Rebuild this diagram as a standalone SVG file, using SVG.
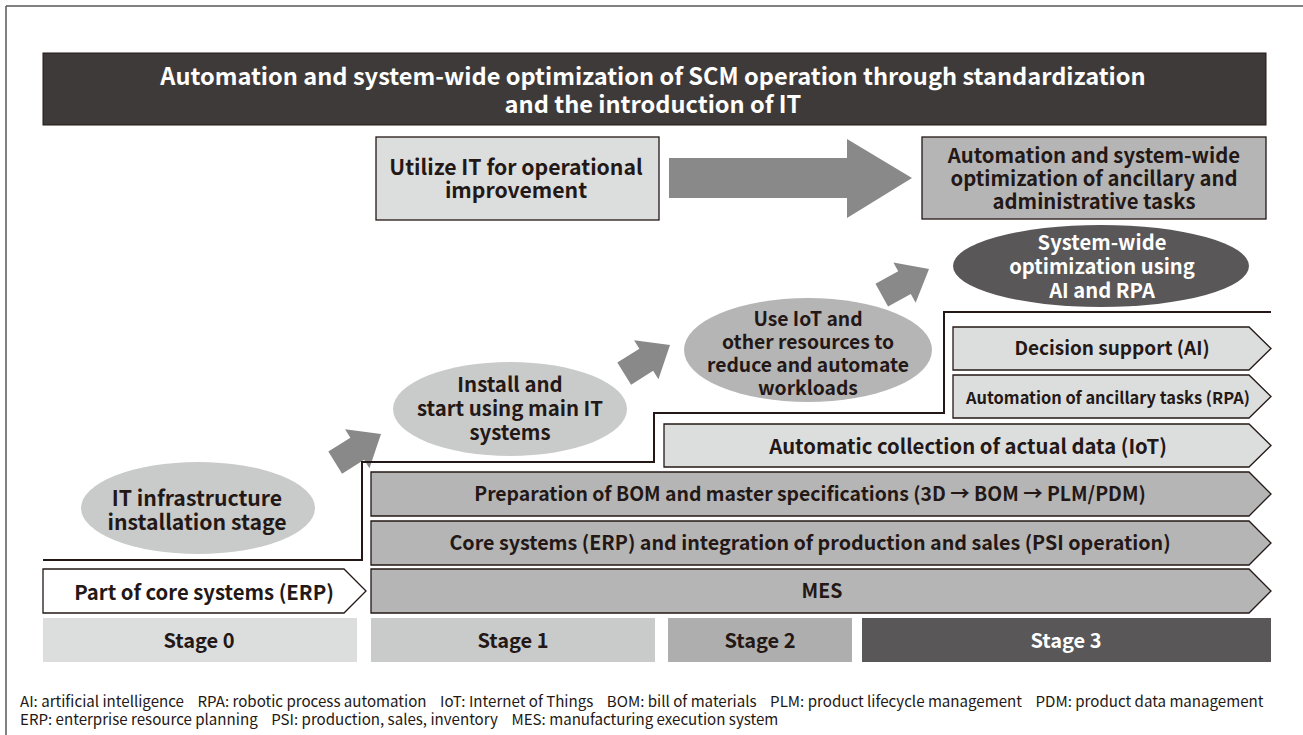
<svg xmlns="http://www.w3.org/2000/svg" width="1303" height="735" viewBox="0 0 1303 735">
<style>
  text { font-family: "Noto Sans CJK JP", "Noto Sans", "Liberation Sans", sans-serif; fill: #231815; text-anchor: middle; }
  .b { font-weight: 700; }
  .w { fill: #ffffff; }
  .bar { stroke: #231815; stroke-width: 1.3; }
  .l1 { fill: #dcdddd; }
  .l2 { fill: #c9caca; }
  .l3 { fill: #b5b5b6; }
  .note { font-size: 15.1px; text-anchor: start; fill: #231815; white-space: pre; }
</style>
<defs>
  <polygon id="arr" points="-54,-13 -28,-13 -28,-23 0,0 -28,23 -28,13 -54,13" fill="#898989"/>
</defs>
<rect width="1303" height="735" fill="#ffffff"/>
<g id="frame" stroke="#595757" stroke-width="1.5" fill="none">
  <line x1="6" y1="6" x2="1303" y2="6"/>
  <line x1="6" y1="6" x2="6" y2="735"/>
</g>
<g id="title">
  <rect x="43" y="53" width="1223" height="72" fill="#3e3a39" stroke="#231815" stroke-width="1"/>
  <text class="b w" x="653" y="85" font-size="23.6">Automation and system-wide optimization of SCM operation through standardization</text>
  <text class="b w" x="653" y="113" font-size="23.6">and the introduction of IT</text>
</g>
<g id="connectors">
  <polygon points="669,158 847,158 847,139 912,178 847,218 847,198 669,198" fill="#898989"/>
  <use href="#arr" transform="translate(381,434) rotate(-32)"/>
  <use href="#arr" transform="translate(670,345) rotate(-32)"/>
  <use href="#arr" transform="translate(929,269) rotate(-29)"/>
  <polyline points="43,560 362,560 362,462 654,462 654,413 944,413 944,312 1271,312" fill="none" stroke="#231815" stroke-width="2"/>
</g>
<g id="utilize">
  <rect x="376" y="137" width="283" height="83" class="l1" stroke="#231815" stroke-width="1.3"/>
  <text class="b" x="516" y="175" font-size="21.2">Utilize IT for operational</text>
  <text class="b" x="516" y="198" font-size="21.2">improvement</text>
</g>
<g id="automation-box">
  <rect x="922" y="137" width="344" height="82" class="l3" stroke="#231815" stroke-width="1.3"/>
  <text class="b" x="1094" y="163" font-size="20.3">Automation and system-wide</text>
  <text class="b" x="1094" y="186" font-size="20.3">optimization of ancillary and</text>
  <text class="b" x="1094" y="209" font-size="20.3">administrative tasks</text>
</g>
<g id="ellipse-ai">
  <ellipse cx="1101" cy="266" rx="148" ry="41" fill="#595757"/>
  <text class="b w" x="1102" y="250" font-size="20.2">System-wide</text>
  <text class="b w" x="1102" y="274" font-size="20.2">optimization using</text>
  <text class="b w" x="1102" y="298" font-size="20.2">AI and RPA</text>
</g>
<g id="ellipse-iot">
  <ellipse cx="808" cy="350" rx="124" ry="52" class="l3"/>
  <text class="b" x="808" y="326" font-size="19.3">Use IoT and</text>
  <text class="b" x="808" y="349" font-size="19.3">other resources to</text>
  <text class="b" x="808" y="372" font-size="19.3">reduce and automate</text>
  <text class="b" x="808" y="395" font-size="19.3">workloads</text>
</g>
<g id="ellipse-install">
  <ellipse cx="510" cy="409" rx="117" ry="47" class="l2"/>
  <text class="b" x="510" y="392" font-size="20.4">Install and</text>
  <text class="b" x="510" y="416" font-size="20.4">start using main IT</text>
  <text class="b" x="510" y="440" font-size="20.4">systems</text>
</g>
<g id="ellipse-infra">
  <ellipse cx="198" cy="508" rx="117" ry="46" class="l2"/>
  <text class="b" x="197" y="506" font-size="21.2">IT infrastructure</text>
  <text class="b" x="197" y="530" font-size="21.2">installation stage</text>
</g>
<g id="bar-decision">
  <polygon class="bar l1" points="953,327 1249,327 1271,348.5 1249,370 953,370"/>
  <text class="b" x="1112" y="355" font-size="19">Decision support (AI)</text>
</g>
<g id="bar-rpa">
  <polygon class="bar l1" points="953,375 1249,375 1271,396.5 1249,418 953,418"/>
  <text class="b" x="1108" y="404" font-size="16.4">Automation of ancillary tasks (RPA)</text>
</g>
<g id="bar-iot">
  <polygon class="bar l1" points="664,424 1249,424 1271,445.5 1249,467 664,467"/>
  <text class="b" x="968" y="454" font-size="20.3">Automatic collection of actual data (IoT)</text>
</g>
<g id="bar-bom">
  <polygon class="bar l3" points="371,472 1249,472 1271,494 1249,516 371,516"/>
  <text class="b" x="810" y="501" font-size="19.4">Preparation of BOM and master specifications (3D → BOM → PLM/PDM)</text>
</g>
<g id="bar-core">
  <polygon class="bar l3" points="371,521 1249,521 1271,543 1249,565 371,565"/>
  <text class="b" x="810" y="550" font-size="19.7">Core systems (ERP) and integration of production and sales (PSI operation)</text>
</g>
<g id="bar-mes">
  <polygon class="bar l3" points="371,569 1249,569 1271,591 1249,613 371,613"/>
  <text class="b" x="822" y="598" font-size="19.5">MES</text>
</g>
<g id="bar-erp">
  <polygon class="bar" fill="#ffffff" points="43,569 344,569 366,591 344,613 43,613"/>
  <text class="b" x="204" y="600" font-size="20.3">Part of core systems (ERP)</text>
</g>
<g id="stage0">
  <rect x="43" y="618" width="314" height="44" class="l1"/>
  <text class="b" x="199" y="648" font-size="20">Stage 0</text>
</g>
<g id="stage1">
  <rect x="371" y="618" width="284" height="44" class="l2"/>
  <text class="b" x="513" y="648" font-size="20">Stage 1</text>
</g>
<g id="stage2">
  <rect x="668" y="618" width="184" height="44" fill="#aeaeae"/>
  <text class="b" x="760" y="648" font-size="20">Stage 2</text>
</g>
<g id="stage3">
  <rect x="862" y="618" width="409" height="44" fill="#595757"/>
  <text class="b w" x="1066" y="648" font-size="20">Stage 3</text>
</g>
<g id="notes">
  <text class="note" x="20" y="707" xml:space="preserve">AI: artificial intelligence    RPA: robotic process automation    IoT: Internet of Things    BOM: bill of materials    PLM: product lifecycle management    PDM: product data management</text>
  <text class="note" x="20" y="725" xml:space="preserve">ERP: enterprise resource planning    PSI: production, sales, inventory    MES: manufacturing execution system</text>
</g>
</svg>
